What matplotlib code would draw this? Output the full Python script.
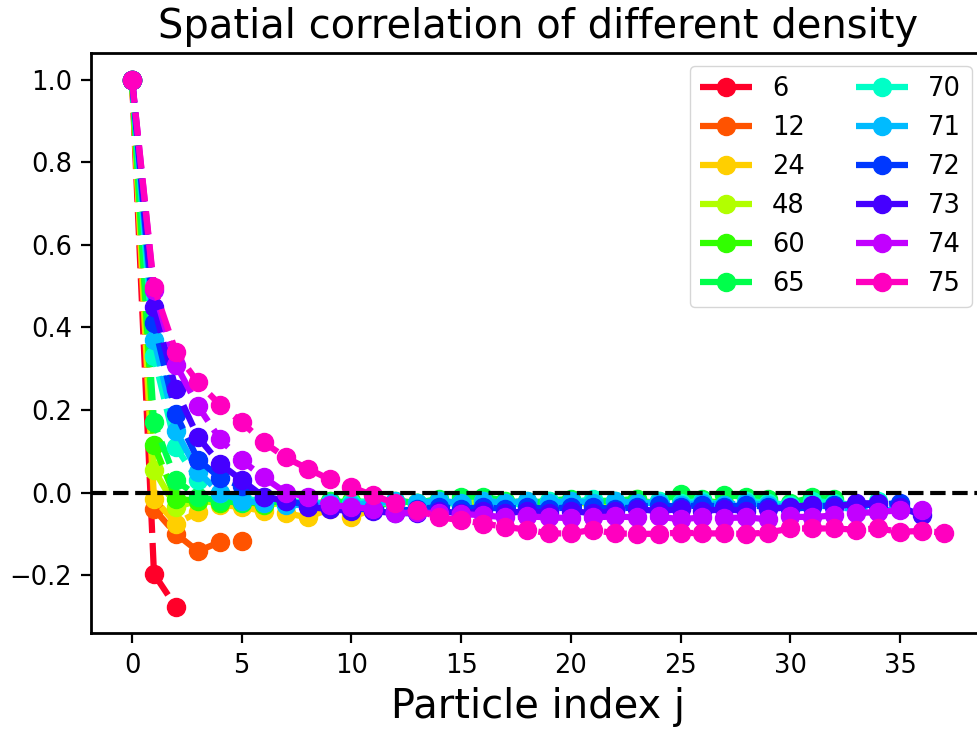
import matplotlib
matplotlib.use('Agg')
import matplotlib.pyplot as plt
import numpy as np

densities = [6, 12, 24, 48, 60, 65, 70, 71, 72, 73, 74, 75]

corr_6 = [1.0, -0.197, -0.277]
corr_12 = [1.0, -0.04, -0.10, -0.142, -0.12, -0.117]
corr_24 = [1.0, -0.015, -0.075, -0.048, -0.03, -0.035, -0.045, -0.05, -0.06, -0.04, -0.06, -0.04]
corr_48 = [1.0, 0.055, -0.035, -0.02, -0.025, -0.02, -0.03, -0.025, -0.03, -0.02, -0.025, -0.03,
           -0.02, -0.025, -0.03, -0.02, -0.025, -0.02, -0.03, -0.025, -0.02, -0.03, -0.025, -0.015]
corr_60 = [1.0, 0.115, -0.015, -0.02, -0.025, -0.02, -0.03, -0.02, -0.025, -0.03, -0.02, -0.025,
           -0.03, -0.025, -0.02, -0.03, -0.02, -0.025, -0.02, -0.03, -0.025, -0.02, -0.03, -0.02,
           -0.025, -0.015, -0.02, -0.025, -0.03, -0.02]
corr_65 = [1.0, 0.17, 0.03, -0.01, -0.02, -0.025, -0.02, -0.025, -0.03, -0.02, -0.025, -0.03,
           -0.02, -0.025, -0.015, -0.01, -0.01, -0.02, -0.025, -0.02, -0.015, -0.02, -0.02, -0.015,
           -0.02, -0.003, -0.015, -0.007, -0.01, -0.015, -0.025, -0.012, -0.015]
corr_70 = [1.0, 0.33, 0.11, 0.03, 0.0, -0.015, -0.02, -0.025, -0.02, -0.03, -0.025, -0.02,
           -0.03, -0.025, -0.02, -0.03, -0.02, -0.025, -0.03, -0.02, -0.025, -0.015, -0.02, -0.03,
           -0.02, -0.025, -0.02, -0.03, -0.02, -0.025, -0.03, -0.02, -0.025, -0.03, -0.02]
corr_71 = [1.0, 0.37, 0.15, 0.05, 0.0, -0.02, -0.025, -0.03, -0.03, -0.025, -0.03, -0.025,
           -0.02, -0.025, -0.02, -0.025, -0.02, -0.025, -0.02, -0.025, -0.02, -0.025, -0.02, -0.025,
           -0.025, -0.03, -0.025, -0.03, -0.025, -0.03, -0.035, -0.03, -0.035, -0.04, -0.045, -0.04]
corr_72 = [1.0, 0.41, 0.19, 0.08, 0.036, 0.015, -0.01, -0.02, -0.03, -0.035, -0.04, -0.04,
           -0.045, -0.04, -0.035, -0.04, -0.035, -0.04, -0.035, -0.04, -0.035, -0.035, -0.04, -0.035,
           -0.03, -0.035, -0.03, -0.035, -0.03, -0.035, -0.04, -0.035, -0.03, -0.03, -0.03, -0.025]
corr_73 = [1.0, 0.45, 0.25, 0.135, 0.07, 0.03, -0.01, -0.02, -0.035, -0.04, -0.045, -0.045,
           -0.05, -0.05, -0.045, -0.05, -0.045, -0.05, -0.045, -0.05, -0.045, -0.05, -0.045, -0.04,
           -0.045, -0.04, -0.045, -0.04, -0.045, -0.04, -0.035, -0.03, -0.035, -0.026, -0.026, -0.035,
           -0.055]
corr_74 = [1.0, 0.49, 0.31, 0.21, 0.13, 0.078, 0.037, 0.0, -0.01, -0.03, -0.035, -0.04,
           -0.05, -0.048, -0.05, -0.052, -0.055, -0.06, -0.058, -0.06, -0.062, -0.06, -0.058, -0.06,
           -0.058, -0.065, -0.06, -0.062, -0.06, -0.065, -0.058, -0.06, -0.055, -0.05, -0.047, -0.043,
           -0.043]
corr_75 = [1.0, 0.497, 0.34, 0.267, 0.213, 0.17, 0.122, 0.085, 0.058, 0.032, 0.013, -0.007,
           -0.026, -0.043, -0.06, -0.067, -0.075, -0.083, -0.09, -0.099, -0.099, -0.09, -0.099, -0.1,
           -0.1, -0.097, -0.099, -0.099, -0.1, -0.097, -0.087, -0.087, -0.087, -0.09, -0.087, -0.095,
           -0.093, -0.097]

series = [corr_6, corr_12, corr_24, corr_48, corr_60, corr_65,
          corr_70, corr_71, corr_72, corr_73, corr_74, corr_75]


def main():
    fig = plt.figure(figsize=(9.77, 7.3), dpi=100)
    # axes runs a little past the right edge, like the cropped original
    ax = fig.add_axes([0.0936, 0.1325, 0.914, 0.7945])

    colors = plt.cm.gist_rainbow(np.linspace(0, 1, len(densities)))
    for d, vals, c in zip(densities, series, colors):
        ax.plot(np.arange(len(vals)), vals, '--o', color=c, lw=4.5, ms=13, label=str(d))

    ax.axhline(0, color='k', ls='--', lw=3)

    ax.set_title('Spatial correlation of different density', fontsize=28.8, pad=11)
    ax.set_xlabel('Particle index j', fontsize=28.8, labelpad=6)
    ax.tick_params(labelsize=18.5, length=7, width=1.6, pad=7)
    for s in ax.spines.values():
        s.set_linewidth(2)
    # right spine falls outside the cropped picture
    ax.spines['right'].set_visible(False)
    ax.set_xticks([0, 5, 10, 15, 20, 25, 30, 35])

    ax.legend(ncol=2, fontsize=18.5, loc='upper right')

    fig.savefig('out.png', dpi=100)


if __name__ == '__main__':
    main()
